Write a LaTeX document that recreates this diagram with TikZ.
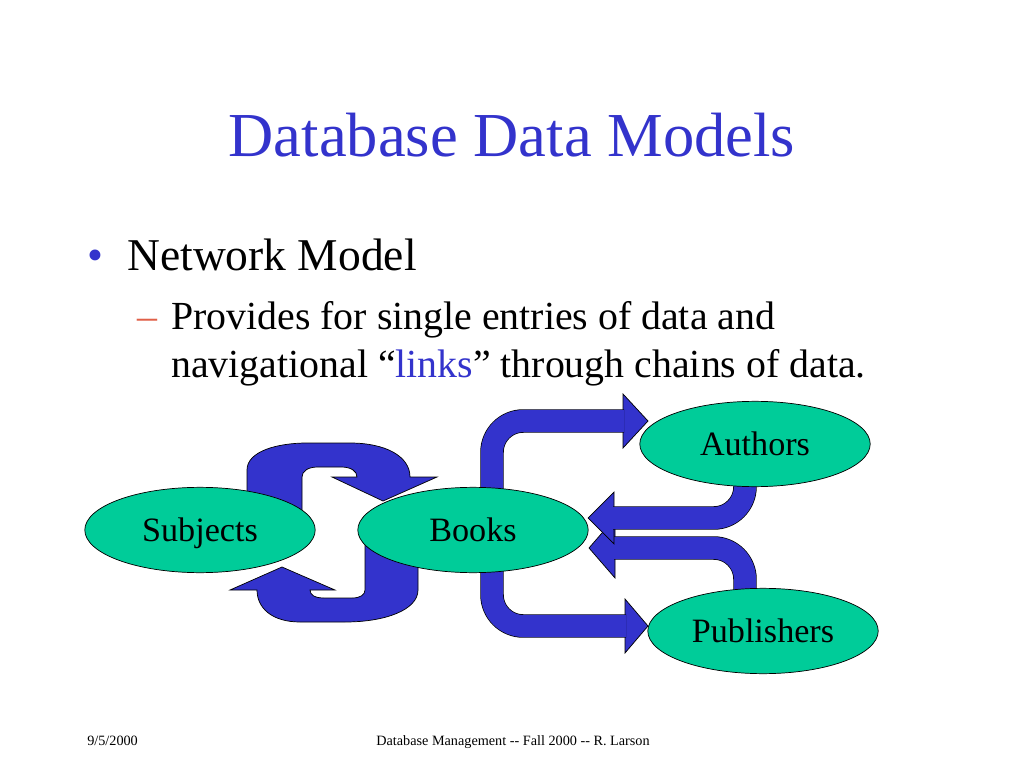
\documentclass[tikz,border=0pt]{standalone}
\usepackage{fontspec}
\setmainfont{Liberation Serif}
\usetikzlibrary{shapes.geometric,backgrounds}
\definecolor{slideblue}{RGB}{51,51,204}
\definecolor{entitygreen}{RGB}{0,204,153}
\definecolor{dashred}{RGB}{224,96,72}
\tikzstyle{entity}=[shape=ellipse,draw,line width=0.5pt,fill=entitygreen,minimum width=162pt,minimum height=60pt,inner sep=0,text depth=0pt,font=\fontsize{24}{29}\selectfont]
\tikzstyle{blockarrow}=[fill=slideblue,draw=black,line width=0.5pt]
\tikzstyle{linkarrow}=[draw=black,line width=0.5pt,double=slideblue,double distance=15.5pt,rounded corners=22pt]
\tikzstyle{plain}=[inner sep=0,anchor=base west]
\begin{document}
\begin{tikzpicture}[x=0.703125pt,y=-0.703125pt]
\useasboundingbox (0,0) rectangle (1024,768);
% slide text
\node[plain,anchor=base,slideblue,font=\fontsize{44}{53}\selectfont] (title) at (512,157) {Database Data Models};
\node[plain,slideblue,font=\fontsize{32}{38}\selectfont] (bullet) at (87,271) {•};
\node[plain,font=\fontsize{32}{38}\selectfont] (network) at (127,271) {Network Model};
\node[plain,dashred,font=\fontsize{28}{34}\selectfont] (dash) at (137,329) {–};
\node[plain,font=\fontsize{28}{34}\selectfont] (lineone) at (171,329) {Provides for single entries of data and};
\node[plain,font=\fontsize{28}{34}\selectfont] (linetwo) at (171,377) {navigational “\textcolor{slideblue}{links}” through chains of data.};
\node[plain,font=\fontsize{10}{12}\selectfont] (date) at (87,745) {9/5/2000};
\node[plain,anchor=base,font=\fontsize{10}{12}\selectfont] (footer) at (513,745) {Database Management -{}- Fall 2000 -{}- R. Larson};

% entities
\node[entity] (subjects) at (200,530) {Subjects};
\node[entity] (books) at (473,530) {Books};
\node[entity] (authors) at (755,444) {Authors};
\node[entity] (publishers) at (763,631) {Publishers};
\coordinate (tipA) at (648,421);
\coordinate (tipB) at (588,518);
\coordinate (tipC) at (589,548);
\coordinate (tipD) at (648,626);

\begin{pgfonlayer}{background}
\fill[white] (0,0) rectangle (1024,768);
% subjects <-> books
\filldraw[blockarrow] (247,520) -- (247,470) .. controls (247,451) and (278,443) .. (307,443) -- (350,443) .. controls (385,443) and (410,456) .. (410,477) -- (437,477) -- (383,501) -- (332,477) -- (357,477) .. controls (357,471) and (351,467) .. (341,467) -- (318,467) .. controls (308,467) and (302,471) .. (302,477) -- (302,520) -- cycle;
\filldraw[blockarrow] (418,535) -- (418,590) .. controls (418,610) and (385,622) .. (345,622) -- (300,622) .. controls (272,622) and (257,608) .. (257,590) -- (230,590) -- (282,567) -- (335,590) -- (310,590) .. controls (310,595) and (315,598) .. (324,598) -- (352,598) .. controls (360,598) and (365,595) .. (365,590) -- (365,535) -- cycle;
% books -> authors, books -> publishers
\filldraw[blockarrow] (tipA) -- ++(-25,-27) -- ++(0,54) -- cycle;
\draw[linkarrow] ([shift={(19,20)}]books.north) |- ([shift={(-24,0)}]tipA);
\filldraw[blockarrow] (tipD) -- ++(-23,-27) -- ++(0,54) -- cycle;
\draw[linkarrow] ([shift={(19,-20)}]books.south) |- ([shift={(-22,0)}]tipD);
% publishers -> books, authors -> books
\filldraw[blockarrow] (tipC) -- ++(26,-30) -- ++(0,60) -- cycle;
\draw[linkarrow] ([shift={(-18,20)}]publishers.north) |- ([shift={(25,0)}]tipC);
\filldraw[blockarrow] (tipB) -- ++(26,-26) -- ++(0,52) -- cycle;
\draw[linkarrow] ([shift={(-10,-20)}]authors.south) |- ([shift={(25,0)}]tipB);
\end{pgfonlayer}
\end{tikzpicture}
\end{document}
